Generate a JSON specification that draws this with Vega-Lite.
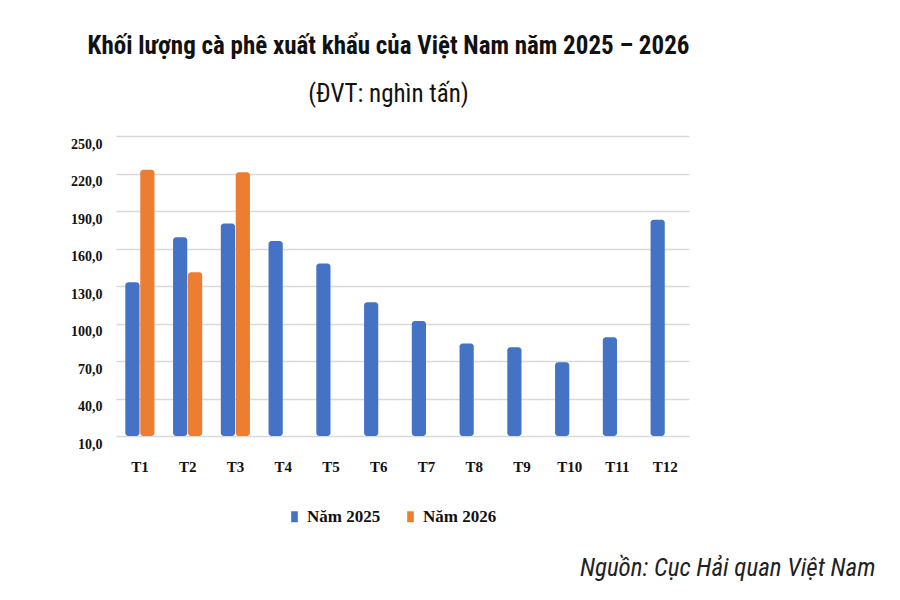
{
  "$schema": "https://vega.github.io/schema/vega-lite/v6.json",
  "autosize": "none",
  "width": 573,
  "height": 300,
  "padding": {"left": 116, "top": 136, "right": 211, "bottom": 164},
  "background": "white",
  "config": {"view": {"stroke": null}},
  "title": {
    "text": "Khối lượng cà phê xuất khẩu của Việt Nam năm 2025 – 2026",
    "subtitle": "(ĐVT: nghìn tấn)",
    "anchor": "middle",
    "dx": -14,
    "offset": 29,
    "font": "Roboto Condensed, Arial Narrow, Roboto",
    "fontSize": 25,
    "fontWeight": "bold",
    "color": "#111111",
    "subtitleFont": "Roboto Condensed, Arial Narrow, Roboto",
    "subtitleFontSize": 25,
    "subtitleColor": "#111111",
    "subtitlePadding": 23
  },
  "data": {
    "values": [
      {"thang": "T1", "nam": "Năm 2025", "value": 133},
      {"thang": "T2", "nam": "Năm 2025", "value": 169},
      {"thang": "T3", "nam": "Năm 2025", "value": 180},
      {"thang": "T4", "nam": "Năm 2025", "value": 166},
      {"thang": "T5", "nam": "Năm 2025", "value": 148},
      {"thang": "T6", "nam": "Năm 2025", "value": 117},
      {"thang": "T7", "nam": "Năm 2025", "value": 102},
      {"thang": "T8", "nam": "Năm 2025", "value": 84},
      {"thang": "T9", "nam": "Năm 2025", "value": 81},
      {"thang": "T10", "nam": "Năm 2025", "value": 69},
      {"thang": "T11", "nam": "Năm 2025", "value": 89},
      {"thang": "T12", "nam": "Năm 2025", "value": 183},
      {"thang": "T1", "nam": "Năm 2026", "value": 223},
      {"thang": "T2", "nam": "Năm 2026", "value": 141},
      {"thang": "T3", "nam": "Năm 2026", "value": 221}
    ]
  },
  "mark": {"type": "bar", "cornerRadius": 3},
  "encoding": {
    "x": {
      "field": "thang",
      "type": "nominal",
      "sort": ["T1","T2","T3","T4","T5","T6","T7","T8","T9","T10","T11","T12"],
      "scale": {"paddingInner": 0.39, "paddingOuter": 0.195},
      "axis": {
        "title": "Nguồn: Cục Hải quan Việt Nam",
        "titleFont": "Roboto Condensed, Arial Narrow, Roboto",
        "titleFontStyle": "italic",
        "titleFontWeight": "normal",
        "titleFontSize": 25,
        "titleColor": "#222222",
        "titleAnchor": "end",
        "titleAlign": "right",
        "titleBaseline": "alphabetic",
        "titleX": 759,
        "titleY": 139,
        "labelAngle": 0,
        "labelFont": "Liberation Serif",
        "labelFontWeight": "bold",
        "labelFontSize": 15,
        "labelColor": "#111111",
        "labelPadding": 23,
        "ticks": false,
        "domain": false
      }
    },
    "xOffset": {
      "field": "nam",
      "type": "nominal",
      "scale": {"domain": ["Năm 2025", "Năm 2026"], "paddingInner": 0.05}
    },
    "y": {
      "field": "value",
      "type": "quantitative",
      "scale": {"domain": [10, 250], "zero": false, "nice": false},
      "axis": {
        "title": null,
        "values": [10, 40, 70, 100, 130, 160, 190, 220, 250],
        "labelExpr": "replace(format(datum.value, '.1f'), '.', ',')",
        "labelFont": "Liberation Serif",
        "labelFontWeight": "bold",
        "labelFontSize": 14,
        "labelColor": "#111111",
        "labelPadding": 14,
        "labelOffset": 8,
        "ticks": false,
        "domain": false,
        "gridColor": "#d9d9d9",
        "gridWidth": 1.5
      }
    },
    "y2": {"datum": 10},
    "color": {
      "field": "nam",
      "type": "nominal",
      "scale": {"domain": ["Năm 2025", "Năm 2026"], "range": ["#4472C4", "#ED7D31"]},
      "legend": {
        "title": null,
        "orient": "none",
        "direction": "horizontal",
        "legendX": 170,
        "legendY": 372,
        "symbolType": "M-0.6,-1H0.6V1H-0.6Z",
        "symbolSize": 121,
        "symbolStrokeWidth": 0,
        "labelFont": "Liberation Serif",
        "labelFontWeight": "bold",
        "labelFontSize": 17,
        "labelColor": "#111111",
        "labelOffset": 4,
        "columnPadding": 21
      }
    }
  }
}
